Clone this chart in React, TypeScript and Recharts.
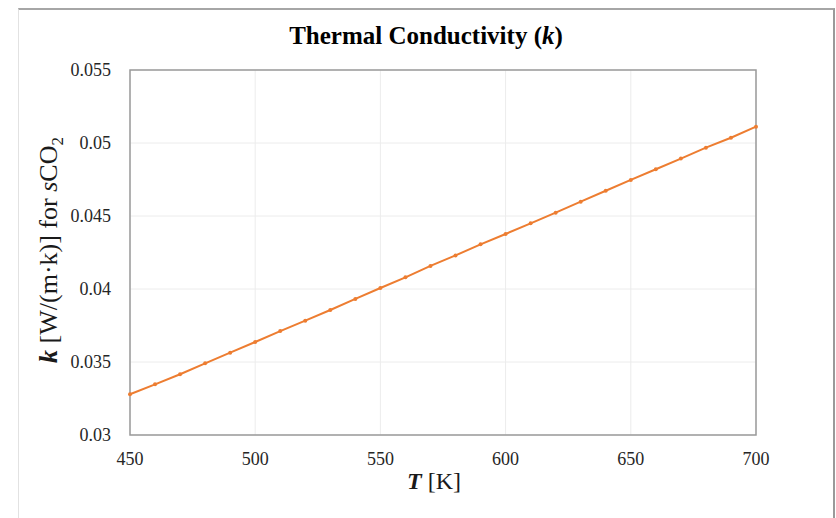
import { LineChart, Line, XAxis, YAxis, CartesianGrid, ReferenceArea, Label } from 'recharts';

const temps = [450, 460, 470, 480, 490, 500, 510, 520, 530, 540, 550, 560, 570, 580, 590, 600, 610, 620, 630, 640, 650, 660, 670, 680, 690, 700];
const conductivity = [
    0.03279, 0.03347, 0.03416, 0.03491, 0.03564, 0.03637, 0.03712, 0.03783, 0.03856, 0.03932,
    0.04007, 0.04080, 0.04158, 0.04230, 0.04306, 0.04377, 0.04450, 0.04523, 0.04598, 0.04673,
    0.04747, 0.04820, 0.04893, 0.04968, 0.05036, 0.05112,
];
const xTicks = [450, 500, 550, 600, 650, 700];
const yTicks = [0.03, 0.035, 0.04, 0.045, 0.05, 0.055];

const data = temps.map((t, i) => ({ t, k: conductivity[i] }));

const serif = '"Liberation Serif", "Times New Roman", serif';
const orange = '#ED7D31';
const tickColor = '#262626';

// recharts puts its own font on tick text, so draw the ticks ourselves
function renderXTick(props: any) {
    const { x, y, payload } = props;
    return (
        <text x={x} y={y} dy={13} textAnchor="middle" fontSize={18} fill={tickColor} style={{ fontFamily: serif }}>
            {payload.value}
        </text>
    );
}

function renderYTick(props: any) {
    const { x, y, payload } = props;
    return (
        <text x={x} y={y} dy={6} textAnchor="end" fontSize={18} fill={tickColor} style={{ fontFamily: serif }}>
            {payload.value}
        </text>
    );
}

export default function App() {
    return (
        <div style={{ position: 'fixed', left: 0, top: 0, width: 836, height: 518, background: '#fff', fontFamily: serif }}>
            <div style={{ position: 'absolute', left: 18, top: 8, width: 814, height: 520, borderTop: '2px solid #a6a6a6', borderRight: '2px solid #9a9a9a', borderLeft: '1px solid #e2e2e2' }} />
            <LineChart width={836} height={518} data={data} margin={{ top: 70, right: 80, bottom: 23, left: 0 }} style={{ position: 'absolute', left: 0, top: 0 }}>
                <CartesianGrid stroke="#ececec" strokeWidth={1} />
                <XAxis
                    dataKey="t"
                    type="number"
                    domain={[450, 700]}
                    ticks={xTicks}
                    height={60}
                    axisLine={false}
                    tickLine={false}
                    tickSize={0}
                    tickMargin={17}
                    tick={renderXTick}
                >
                    <Label
                        content={() => (
                            <text x={434} y={489} textAnchor="middle" fontSize={24} fill="#1a1a1a" style={{ fontFamily: serif }}>
                                <tspan fontWeight="bold" fontStyle="italic">T</tspan>
                                <tspan> [K]</tspan>
                            </text>
                        )}
                    />
                </XAxis>
                <YAxis
                    type="number"
                    domain={[0.03, 0.055]}
                    ticks={yTicks}
                    width={130}
                    axisLine={false}
                    tickLine={false}
                    tickSize={0}
                    tickMargin={19}
                    tick={renderYTick}
                >
                    <Label
                        content={() => (
                            <text x={57} y={250} transform="rotate(-90 57 250)" textAnchor="middle" fontSize={26} fill="#1a1a1a" style={{ fontFamily: serif }}>
                                <tspan fontWeight="bold" fontStyle="italic">k</tspan>
                                <tspan> [W/(m·k)] for </tspan>
                                <tspan fontStyle="italic">s</tspan>
                                <tspan>CO</tspan>
                                <tspan fontSize={17} dy={6}>2</tspan>
                            </text>
                        )}
                    />
                </YAxis>
                <ReferenceArea x1={450} x2={700} y1={0.03} y2={0.055} fill="none" stroke="#9a9a9a" strokeWidth={1.5} />
                <Line
                    type="linear"
                    dataKey="k"
                    stroke={orange}
                    strokeWidth={2}
                    dot={{ r: 2, fill: orange, stroke: orange, strokeWidth: 0 }}
                    isAnimationActive={false}
                />
                <text x={426} y={44} textAnchor="middle" fontSize={25} fontWeight="bold" fill="#000" style={{ fontFamily: serif }}>
                    <tspan>Thermal Conductivity (</tspan>
                    <tspan fontStyle="italic">k</tspan>
                    <tspan>)</tspan>
                </text>
            </LineChart>
        </div>
    );
}
